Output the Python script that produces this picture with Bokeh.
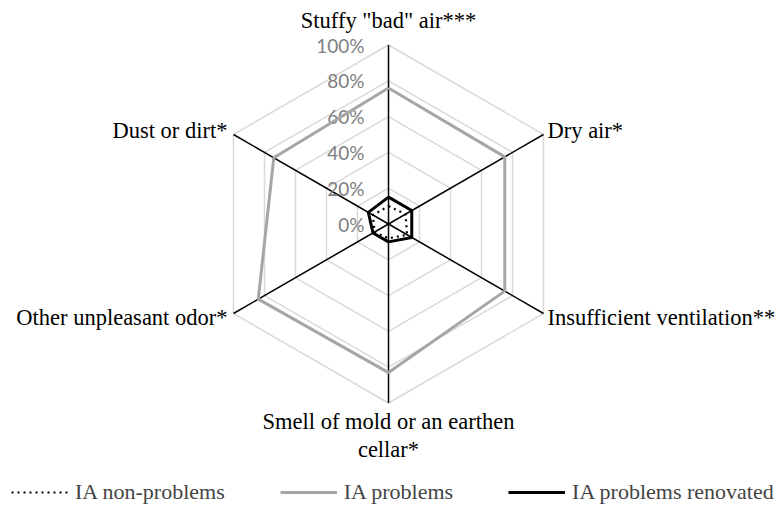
import numpy as np
from bokeh.plotting import figure
from bokeh.models import Range1d, Legend, LegendItem
from bokeh.core.properties import value
from bokeh.embed import file_html
from bokeh.resources import INLINE

# ---- data ----
categories = ['Stuffy "bad" air***', "Dry air*", "Insufficient ventilation**",
              "Smell of mold or an earthen\ncellar*", "Other unpleasant odor*", "Dust or dirt*"]
ia_non_problems = [10, 11, 12, 8, 9, 10]
ia_problems = [76, 75, 75, 83, 84, 74]
ia_problems_renovated = [15, 15, 15, 10, 10, 13]
tick_values = [0, 20, 40, 60, 80, 100]
tick_labels = ["0%", "20%", "40%", "60%", "80%", "100%"]
series_names = ["IA non-problems", "IA problems", "IA problems renovated"]

# ---- geometry (pixel-like data units) ----
R = 179.0
CX, CY = 388.0, 223.5  # centre in picture pixels
W, H = 778, 507
n = len(categories)
angles = np.pi / 2 - np.arange(n) * 2 * np.pi / n


def polygon(vals):
    r = np.array(vals, dtype=float) / 100.0 * R
    xs = list(r * np.cos(angles)) + [r[0] * np.cos(angles[0])]
    ys = list(r * np.sin(angles)) + [r[0] * np.sin(angles[0])]
    return xs, ys


p = figure(width=W, height=H, output_backend="svg", toolbar_location=None,
           x_range=Range1d(-CX, W - CX), y_range=Range1d(CY - H, CY),
           min_border=0, outline_line_color=None)
p.axis.visible = False
p.grid.visible = False
p.background_fill_color = "white"

# grid rings
for tv in tick_values[1:]:
    xs, ys = polygon([tv] * n)
    p.line(xs, ys, line_color="#d9d9d9", line_width=1.5)

# spokes
for a in angles:
    p.line([0, R * np.cos(a)], [0, R * np.sin(a)], line_color="black", line_width=1.5)

# tick labels
p.text(x=[-24] * len(tick_values), y=[tv / 100 * R for tv in tick_values], text=tick_labels,
       text_align="right", text_baseline="middle", text_color="#808080",
       text_font=value("Lato"), text_font_size="19px")

# series
xs, ys = polygon(ia_problems)
r_prob = p.line(xs, ys, line_color="#a6a6a6", line_width=3)
xs, ys = polygon(ia_non_problems)
r_non = p.line(xs, ys, line_color="black", line_width=2.2, line_dash="2 4")
xs, ys = polygon(ia_problems_renovated)
r_ren = p.line(xs, ys, line_color="black", line_width=3)

# category labels
lx, ly, la, lb = [], [], [], []
for a in angles:
    c, s = np.cos(a), np.sin(a)
    x, y = R * c, R * s
    if c > 0.1:
        lx.append(x + 4); ly.append(y + 4 * np.sign(s)); la.append("left"); lb.append("middle")
    elif c < -0.1:
        lx.append(x - 6); ly.append(y + 4 * np.sign(s)); la.append("right"); lb.append("middle")
    elif s > 0:
        lx.append(x); ly.append(y + 25); la.append("center"); lb.append("middle")
    else:
        lx.append(x); ly.append(y - 6); la.append("center"); lb.append("top")
for i in range(n):
    p.text(x=[lx[i]], y=[ly[i]], text=[categories[i]], text_align=la[i], text_baseline=lb[i],
           text_color="black", text_font=value("Liberation Serif"), text_font_size="22.5px",
           text_line_height=1.1)

legend = Legend(items=[LegendItem(label=series_names[0], renderers=[r_non]),
                       LegendItem(label=series_names[1], renderers=[r_prob]),
                       LegendItem(label=series_names[2], renderers=[r_ren])],
                orientation="horizontal", location=(11, 2),
                label_text_font="Liberation Serif", label_text_font_size="22px",
                glyph_width=57, label_standoff=7, spacing=55, padding=0, margin=0,
                border_line_color=None, background_fill_alpha=0)
p.add_layout(legend, "center")

open("out.html", "w").write(file_html(p, INLINE))
